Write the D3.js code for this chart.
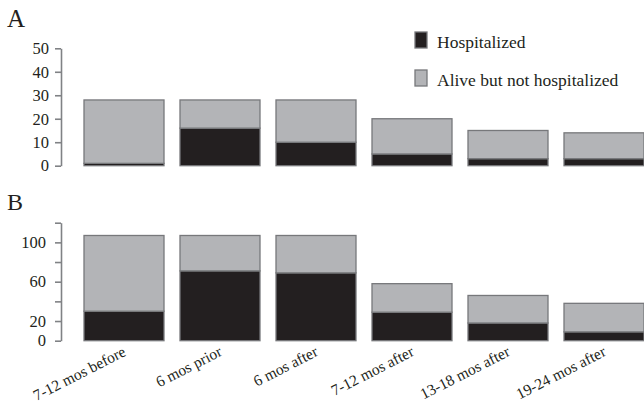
<!DOCTYPE html>
<html>
<head>
<meta charset="utf-8">
<script src="https://cdn.jsdelivr.net/npm/d3@7"></script>
<style>
  html, body { margin: 0; padding: 0; background: #fff; }
  svg text { font-family: "Liberation Serif", "DejaVu Serif", serif; }
</style>
</head>
<body>
<svg id="chart" width="644" height="403"></svg>
<script>
// Time windows around the index event
const categories = ["7-12 mos before", "6 mos prior", "6 mos after", "7-12 mos after", "13-18 mos after", "19-24 mos after"];

// Panel A counts
const hospitalizedA = [1, 16, 10, 5, 3, 3];
const aliveNotHospA = [27, 12, 18, 15, 12, 11];

// Panel B counts
const hospitalizedB = [30, 71, 69, 29, 18, 9];
const aliveNotHospB = [77, 36, 38, 29, 28, 29];

// Axis ticks
const ticksA = [0, 10, 20, 30, 40, 50];
const ticksB = [0, 20, 40, 60, 80, 100, 120];
const labeledTicksB = [0, 20, 60, 100];

const seriesNames = ["Hospitalized", "Alive but not hospitalized"];
const colors = { "Hospitalized": "#231f20", "Alive but not hospitalized": "#b3b4b7" };
const outline = "#77787b";
const axisColor = "#808285";
const textColor = "#231f20";
const serif = "'Liberation Serif', 'DejaVu Serif', serif";

const svg = d3.select("#chart");

const x = d3.scaleBand()
  .domain(categories)
  .range([76, 652])
  .paddingInner(16 / 96)
  .paddingOuter(8 / 96);

function panel(hosp, alive, yDomain, yRange, ticks, labeled, padding) {
  const y = d3.scaleLinear().domain(yDomain).range(yRange);
  const rows = categories.map((c, i) => ({
    cat: c,
    "Hospitalized": hosp[i],
    "Alive but not hospitalized": alive[i]
  }));
  const stacked = d3.stack().keys(seriesNames)(rows);

  const g = svg.append("g");
  g.selectAll("g.series")
    .data(stacked)
    .join("g")
    .attr("class", "series")
    .attr("fill", d => colors[d.key])
    .selectAll("rect")
    .data(d => d)
    .join("rect")
    .attr("x", d => x(d.data.cat))
    .attr("width", x.bandwidth())
    .attr("y", d => y(d[1]))
    .attr("height", d => y(d[0]) - y(d[1]))
    .attr("stroke", outline)
    .attr("stroke-width", 1.3);

  const axis = d3.axisLeft(y)
    .tickValues(ticks)
    .tickSize(6)
    .tickPadding(padding)
    .tickSizeOuter(0)
    .tickFormat(v => labeled.includes(v) ? d3.format("d")(v) : "");

  const ag = svg.append("g")
    .attr("transform", "translate(61,0)")
    .call(axis)
    .attr("font-family", null)
    .attr("font-size", null);
  ag.select(".domain").attr("stroke", axisColor).attr("stroke-width", 1.6);
  ag.selectAll(".tick line").attr("stroke", axisColor).attr("stroke-width", 1.6);
  ag.selectAll(".tick text")
    .attr("fill", textColor)
    .style("font-size", "16.5px")
    .style("font-family", serif);
  return y;
}

panel(hospitalizedA, aliveNotHospA, [0, 50], [165.7, 48.3], ticksA, ticksA, 6);
panel(hospitalizedB, aliveNotHospB, [0, 120], [340.7, 222.7], ticksB, labeledTicksB, 9);

// Panel letters
svg.append("text").attr("x", 7).attr("y", 27).style("font-size", "25px").style("font-family", serif).attr("fill", textColor).text("A");
svg.append("text").attr("x", 7).attr("y", 210).style("font-size", "24px").style("font-family", serif).attr("fill", textColor).text("B");

// Category labels under panel B
svg.append("g")
  .selectAll("text")
  .data(categories)
  .join("text")
  .attr("transform", d => `translate(${x(d) + x.bandwidth() / 2 + 3},355) rotate(-27)`)
  .attr("text-anchor", "end")
  .style("font-size", "15.5px")
  .style("font-family", serif)
  .attr("fill", textColor)
  .text(d => d);

// Legend
const legend = svg.append("g")
  .selectAll("g")
  .data(seriesNames)
  .join("g")
  .attr("transform", (d, i) => `translate(415,${32 + i * 38})`);
legend.append("rect")
  .attr("width", 12)
  .attr("height", 16)
  .attr("fill", d => colors[d])
  .attr("stroke", outline)
  .attr("stroke-width", 1.3);
legend.append("text")
  .attr("x", 22)
  .attr("y", 15.5)
  .style("font-size", "17.5px")
  .style("font-family", serif)
  .attr("fill", textColor)
  .text(d => d);
</script>
</body>
</html>
